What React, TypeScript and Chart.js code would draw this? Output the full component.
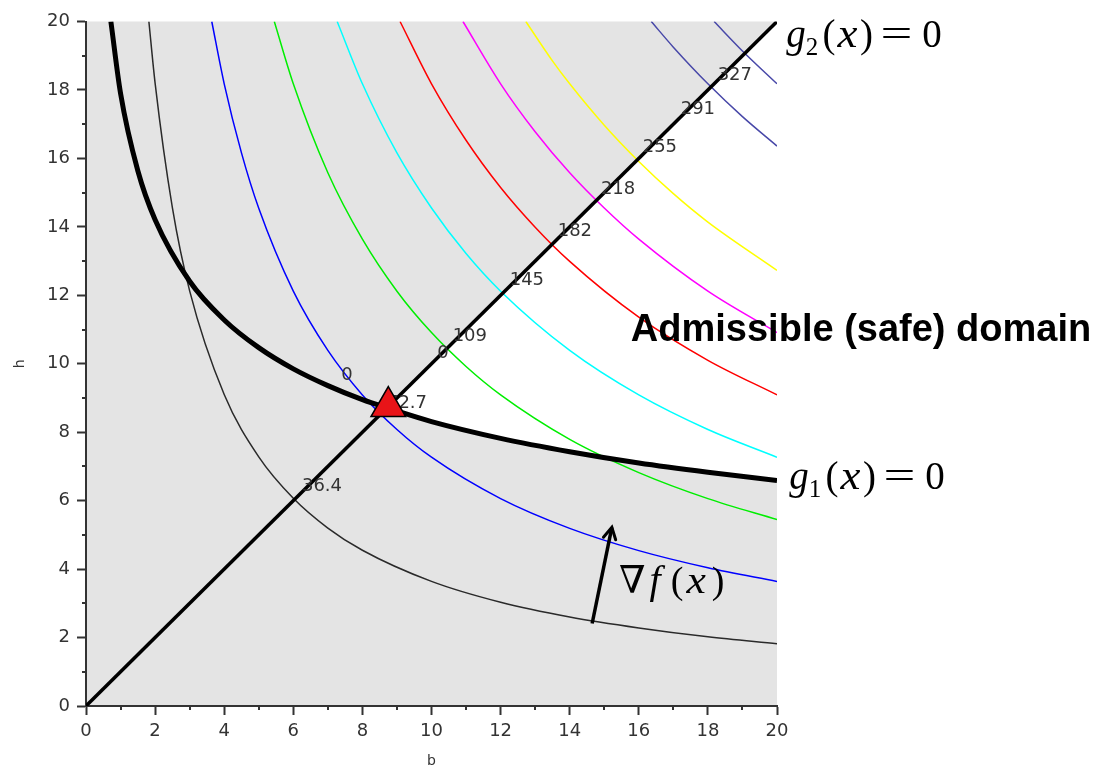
import React, { useEffect, useRef } from 'react';
import { Chart, registerables } from 'chart.js';
Chart.register(...registerables);

// ---- data (b, h) ----
const c36B = [1.82, 2, 2.5, 3, 4, 5, 6, 7, 8, 10, 12, 14, 16, 18, 20];
const c36H = [20, 18.2, 14.56, 12.13, 9.1, 7.28, 6.07, 5.2, 4.55, 3.64, 3.03, 2.6, 2.28, 2.02, 1.82];
const c73B = [3.64, 4, 4.5, 5, 6, 7, 8, 9, 10, 12, 14, 16, 18, 20];
const c73H = [20, 18.18, 16.16, 14.54, 12.12, 10.39, 9.09, 8.08, 7.27, 6.06, 5.19, 4.54, 4.04, 3.64];
const c109B = [5.45, 6, 7, 8, 9, 10, 11, 12, 14, 16, 18, 20];
const c109H = [20, 18.18, 15.58, 13.64, 12.12, 10.91, 9.92, 9.09, 7.79, 6.82, 6.06, 5.45];
const c145B = [7.27, 8, 9, 10, 11, 12, 14, 16, 18, 20];
const c145H = [20, 18.18, 16.16, 14.55, 13.22, 12.12, 10.39, 9.09, 8.08, 7.27];
const c182B = [9.09, 10, 11, 12, 13, 14, 16, 18, 20];
const c182H = [20, 18.18, 16.53, 15.15, 13.99, 12.99, 11.36, 10.1, 9.09];
const c218B = [10.91, 12, 13, 14, 15, 16, 18, 20];
const c218H = [20, 18.18, 16.78, 15.58, 14.55, 13.64, 12.12, 10.91];
const c255B = [12.73, 13.5, 14, 15, 16, 17, 18, 20];
const c255H = [20, 18.85, 18.18, 16.97, 15.91, 14.97, 14.14, 12.73];
const c327B = [16.36, 17, 18, 19, 20];
const c327H = [20, 19.25, 18.18, 17.22, 16.36];
const c364B = [18.18, 19, 20];
const c364H = [20, 19.14, 18.18];

const g1B = [0.72, 1, 1.5, 2, 3, 4, 5, 6, 7, 8, 8.75, 10, 12, 14, 16, 18, 20];
const g1H = [20, 17.9, 15.64, 14.21, 12.41, 11.28, 10.47, 9.85, 9.36, 8.95, 8.7, 8.31, 7.82, 7.43, 7.1, 6.83, 6.59];
const g2B = [0, 20];
const g2H = [0, 20];

const optB = [8.75];
const optH = [8.75];

const arrowB = [14.65, 15.22];
const arrowH = [2.41, 5.22];

const labelTexts = ['0', '0', '36.4', '72.7', '109', '145', '182', '218', '255', '291', '327'];
const labelB = [7.55, 10.33, 6.83, 9.29, 11.11, 12.76, 14.15, 15.4, 16.61, 17.71, 18.78];
const labelH = [9.65, 10.29, 6.41, 8.84, 10.81, 12.43, 13.86, 15.1, 16.32, 17.42, 18.43];

const xTicks = [0, 20];
const yTicks = [0, 20];

const zip = (xs: number[], ys: number[]) => xs.map((x, i) => ({ x, y: ys[i] }));

const serif = "'Liberation Serif', 'DejaVu Serif', serif";

type Seg = { t: string; font: string; cx: number; dy?: number; sx?: number };

function drawSegs(ctx: CanvasRenderingContext2D, x: number, y: number, segs: Seg[]) {
  ctx.save();
  ctx.fillStyle = '#000';
  ctx.textBaseline = 'alphabetic';
  ctx.textAlign = 'center';
  for (const s of segs) {
    ctx.font = s.font;
    ctx.save();
    ctx.translate(x + s.cx, y + (s.dy || 0));
    if (s.sx) ctx.scale(s.sx, 1);
    ctx.fillText(s.t, 0, 0);
    ctx.restore();
  }
  ctx.restore();
}

const eqSegs = (sub: string): Seg[] => [
  { t: 'g', font: `italic 39px ${serif}`, cx: 11 },
  { t: sub, font: `25px ${serif}`, cx: 27, dy: 8 },
  { t: '(', font: `39px ${serif}`, cx: 44 },
  { t: 'x', font: `italic 39px ${serif}`, cx: 62.5, sx: 1.15 },
  { t: ')', font: `39px ${serif}`, cx: 81.5 },
  { t: '=', font: `39px ${serif}`, cx: 111.5, sx: 1.45 },
  { t: '0', font: `39px ${serif}`, cx: 147 },
];

const gradSegs: Seg[] = [
  { t: '\u2207', font: `38px ${serif}`, cx: 12 },
  { t: 'f', font: `italic 40px ${serif}`, cx: 35 },
  { t: '(', font: `38px ${serif}`, cx: 57 },
  { t: 'x', font: `italic 38px ${serif}`, cx: 76, sx: 1.15 },
  { t: ')', font: `38px ${serif}`, cx: 98 },
];

const bgPlugin = {
  id: 'bgPlugin',
  beforeDraw(chart: any) {
    const { ctx, chartArea: a, scales } = chart;
    const xs = scales.x, ys = scales.y;
    ctx.save();
    ctx.fillStyle = '#e4e4e4';
    ctx.fillRect(a.left, a.top, a.right - a.left, a.bottom - a.top);
    // admissible region: above g1, below g2
    ctx.fillStyle = '#ffffff';
    ctx.beginPath();
    let started = false;
    for (let i = 0; i < g1B.length; i++) {
      if (g1B[i] < optB[0]) continue;
      const px = xs.getPixelForValue(g1B[i]);
      const py = ys.getPixelForValue(g1H[i]);
      if (!started) { ctx.moveTo(px, py); started = true; } else ctx.lineTo(px, py);
    }
    ctx.lineTo(xs.getPixelForValue(g2B[1]), ys.getPixelForValue(g2H[1]));
    ctx.closePath();
    ctx.fill();
    ctx.restore();
  },
  afterDatasetDraw(chart: any, args: any) {
    if (args.index !== 1) return;
    const { ctx, scales } = chart;
    const xs = scales.x, ys = scales.y;
    // arrow head
    const pts = args.meta.data;
    const x0 = pts[0].x, y0 = pts[0].y, x1 = pts[1].x, y1 = pts[1].y;
    const ang = Math.atan2(y1 - y0, x1 - x0);
    const hl = 13;
    ctx.save();
    ctx.strokeStyle = '#000';
    ctx.lineWidth = 3;
    ctx.lineCap = 'round';
    ctx.beginPath();
    ctx.moveTo(x1 - hl * Math.cos(ang - 0.5), y1 - hl * Math.sin(ang - 0.5));
    ctx.lineTo(x1, y1);
    ctx.lineTo(x1 - hl * Math.cos(ang + 0.5), y1 - hl * Math.sin(ang + 0.5));
    ctx.stroke();
    // contour labels
    ctx.fillStyle = '#333';
    ctx.font = "18px 'DejaVu Sans', sans-serif";
    ctx.textAlign = 'center';
    ctx.textBaseline = 'middle';
    for (let i = 0; i < labelTexts.length; i++) {
      ctx.fillText(labelTexts[i], xs.getPixelForValue(labelB[i]), ys.getPixelForValue(labelH[i]));
    }
    ctx.restore();
  },
  afterDraw(chart: any) {
    const { ctx, scales, chartArea: a } = chart;
    const xs = scales.x, ys = scales.y;
    ctx.save();
    // minor ticks
    ctx.strokeStyle = '#333';
    ctx.lineWidth = 2;
    for (let v = xTicks[0] + 1; v < xTicks[1]; v += 2) {
      const px = Math.round(xs.getPixelForValue(v));
      ctx.beginPath();
      ctx.moveTo(px, a.bottom);
      ctx.lineTo(px, a.bottom + 4);
      ctx.stroke();
      const py = Math.round(ys.getPixelForValue(v));
      ctx.beginPath();
      ctx.moveTo(a.left, py);
      ctx.lineTo(a.left - 4, py);
      ctx.stroke();
    }
    ctx.restore();
    // annotations
    drawSegs(ctx, xs.getPixelForValue(20.23), ys.getPixelForValue(19.25), eqSegs('2'));
    drawSegs(ctx, xs.getPixelForValue(20.32), ys.getPixelForValue(6.35), eqSegs('1'));
    drawSegs(ctx, xs.getPixelForValue(15.46), ys.getPixelForValue(3.3), gradSegs);
    ctx.save();
    ctx.fillStyle = '#000';
    ctx.font = "bold 38px 'Liberation Sans', Arial, sans-serif";
    ctx.textAlign = 'left';
    ctx.textBaseline = 'alphabetic';
    ctx.fillText('Admissible (safe) domain', xs.getPixelForValue(15.77), ys.getPixelForValue(10.67));
    ctx.restore();
  },
};

const contour = (xs: number[], ys: number[], color: string, width = 1.5) => ({
  data: zip(xs, ys),
  showLine: true,
  borderColor: color,
  borderWidth: width,
  pointRadius: 0,
  cubicInterpolationMode: 'monotone',
  fill: false,
});

export default function App() {
  const ref = useRef<HTMLCanvasElement | null>(null);
  useEffect(() => {
    if (!ref.current) return;
    const tickColor = (c: any) => (c.tick && c.tick.value % 2 === 0 ? '#333' : 'rgba(0,0,0,0)');
    const chart = new Chart(ref.current, {
      type: 'scatter',
      data: {
        datasets: [
          {
            data: zip(optB, optH),
            pointStyle: 'triangle',
            pointRadius: 20,
            backgroundColor: '#e81418',
            borderColor: '#000',
            borderWidth: 1.5,
            showLine: false,
          },
          {
            data: zip(arrowB, arrowH),
            showLine: true,
            borderColor: '#000',
            borderWidth: 3.5,
            pointRadius: 0,
          },
          contour(g1B, g1H, '#000', 5),
          { ...contour(g2B, g2H, '#000', 3.5), cubicInterpolationMode: 'default' },
          contour(c36B, c36H, '#2a2a2a', 1.5),
          contour(c73B, c73H, '#0000ff'),
          contour(c109B, c109H, '#00ee00'),
          contour(c145B, c145H, '#00ffff'),
          contour(c182B, c182H, '#ff0000'),
          contour(c218B, c218H, '#ff00ff'),
          contour(c255B, c255H, '#ffff00'),
          contour(c327B, c327H, '#4848a8'),
          contour(c364B, c364H, '#4848a8'),
        ] as any,
      },
      options: {
        animation: false,
        responsive: false,
        devicePixelRatio: 1,
        layout: { padding: { left: 0, right: 341, top: 16, bottom: 0 } },
        plugins: { legend: { display: false }, tooltip: { enabled: false } },
        elements: { line: { tension: 0 } },
        scales: {
          x: {
            type: 'linear',
            min: xTicks[0],
            max: xTicks[1],
            afterFit: (s: any) => { s.height = 64; },
            border: { color: '#333', width: 2 },
            grid: { display: true, drawOnChartArea: false, tickLength: 9, tickWidth: 2, tickColor },
            ticks: {
              stepSize: 1,
              autoSkip: false,
              maxRotation: 0,
              padding: 6,
              color: '#333',
              font: { family: "'DejaVu Sans', sans-serif", size: 18 },
              callback: (v: any) => (Number(v) % 2 === 0 ? String(v) : ''),
            },
            title: {
              display: true,
              text: 'b',
              color: '#333',
              font: { family: "'DejaVu Sans', sans-serif", size: 14 },
              padding: { top: 0, bottom: 0 },
            },
          },
          y: {
            type: 'linear',
            min: yTicks[0],
            max: yTicks[1],
            afterFit: (s: any) => { s.width = 86; },
            border: { color: '#333', width: 2 },
            grid: { display: true, drawOnChartArea: false, tickLength: 9, tickWidth: 2, tickColor },
            ticks: {
              stepSize: 1,
              autoSkip: false,
              padding: 7,
              color: '#333',
              font: { family: "'DejaVu Sans', sans-serif", size: 18 },
              callback: (v: any) => (Number(v) % 2 === 0 ? String(v) : ''),
            },
            title: {
              display: true,
              text: 'h',
              color: '#333',
              font: { family: "'DejaVu Sans', sans-serif", size: 14 },
              padding: { top: 12, bottom: 0 },
            },
          },
        },
      } as any,
      plugins: [bgPlugin],
    });
    return () => chart.destroy();
  }, []);
  return (
    <div style={{ position: 'absolute', left: 0, top: 0, width: 1118, height: 770 }}>
      <canvas ref={ref} width={1118} height={770} style={{ width: 1118, height: 770 }} />
    </div>
  );
}
